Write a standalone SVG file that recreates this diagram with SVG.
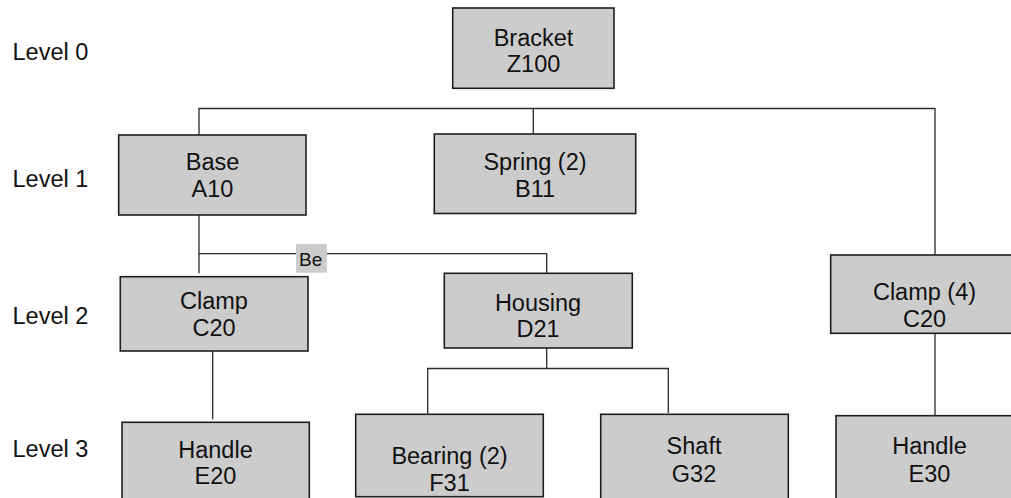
<svg xmlns="http://www.w3.org/2000/svg" width="1011" height="498" viewBox="0 0 1011 498">
<style>
.box{fill:#cccccc;stroke:#1e1e1e;stroke-width:1.6}
.t{font-family:"Liberation Sans",Arial,sans-serif;font-size:23.5px;fill:#111;text-anchor:middle}
.lv{font-family:"Liberation Sans",Arial,sans-serif;font-size:23.5px;fill:#111}
.c{fill:none;stroke:#2a2a2a;stroke-width:1.3}
.be{font-family:"Liberation Sans",Arial,sans-serif;font-size:19px;fill:#111}
</style>
<rect width="1011" height="498" fill="#ffffff"/>
<g id="levels">
<text class="lv" x="12.5" y="60">Level 0</text>
<text class="lv" x="12.5" y="187.3">Level 1</text>
<text class="lv" x="12.5" y="324">Level 2</text>
<text class="lv" x="12.5" y="456.7">Level 3</text>
</g>
<g id="connectors">
<polyline class="c" points="199,135 199,108.5 935,108.5 935,255"/>
<line class="c" x1="533.3" y1="108.5" x2="533.3" y2="134"/>
<polyline class="c" points="199,215 199,273.3"/>
<polyline class="c" points="199,253.7 546.7,253.7 546.7,273.3"/>
<line class="c" x1="212.7" y1="351" x2="212.7" y2="419.3"/>
<line class="c" x1="546.7" y1="348" x2="546.7" y2="368.5"/>
<polyline class="c" points="427.7,414 427.7,368.5 668.3,368.5 668.3,413"/>
<line class="c" x1="935" y1="333" x2="935" y2="415.5"/>
<rect x="296" y="244" width="31" height="28.7" fill="#cccccc"/>
<text class="be" x="299" y="265.7">Be</text>
</g>
<g id="bracket">
<rect class="box" x="452.7" y="8" width="161.3" height="80.3"/>
<text class="t" x="533.5" y="45.7">Bracket</text>
<text class="t" x="533.5" y="71.7">Z100</text>
</g>
<g id="base">
<rect class="box" x="118.7" y="135" width="187.3" height="80"/>
<text class="t" x="212.5" y="170">Base</text>
<text class="t" x="212.5" y="196.7">A10</text>
</g>
<g id="spring">
<rect class="box" x="434.3" y="134" width="201.4" height="79.5"/>
<text class="t" x="535" y="170">Spring (2)</text>
<text class="t" x="535" y="196.7">B11</text>
</g>
<g id="clamp-c20">
<rect class="box" x="120.3" y="276.7" width="187.7" height="74.3"/>
<text class="t" x="214" y="309.3">Clamp</text>
<text class="t" x="214" y="336">C20</text>
</g>
<g id="housing">
<rect class="box" x="444.3" y="273.3" width="188" height="74.7"/>
<text class="t" x="538" y="310.7">Housing</text>
<text class="t" x="538" y="336.7">D21</text>
</g>
<g id="clamp4">
<rect class="box" x="830.7" y="255" width="187.3" height="78.3"/>
<text class="t" x="924.5" y="300">Clamp (4)</text>
<text class="t" x="924.5" y="326.7">C20</text>
</g>
<g id="handle-e20">
<rect class="box" x="122" y="422.3" width="187.3" height="82"/>
<text class="t" x="215.5" y="457.7">Handle</text>
<text class="t" x="215.5" y="484.3">E20</text>
</g>
<g id="bearing">
<rect class="box" x="355.7" y="414.3" width="187.6" height="82.4"/>
<text class="t" x="449.5" y="464.3">Bearing (2)</text>
<text class="t" x="449.5" y="490.7">F31</text>
</g>
<g id="shaft">
<rect class="box" x="600.7" y="414.3" width="187.6" height="90"/>
<text class="t" x="694" y="454.3">Shaft</text>
<text class="t" x="694" y="481.7">G32</text>
</g>
<g id="handle-e30">
<rect class="box" x="836" y="415.7" width="187.3" height="90"/>
<text class="t" x="929.5" y="454.3">Handle</text>
<text class="t" x="929.5" y="481.7">E30</text>
</g>
</svg>
